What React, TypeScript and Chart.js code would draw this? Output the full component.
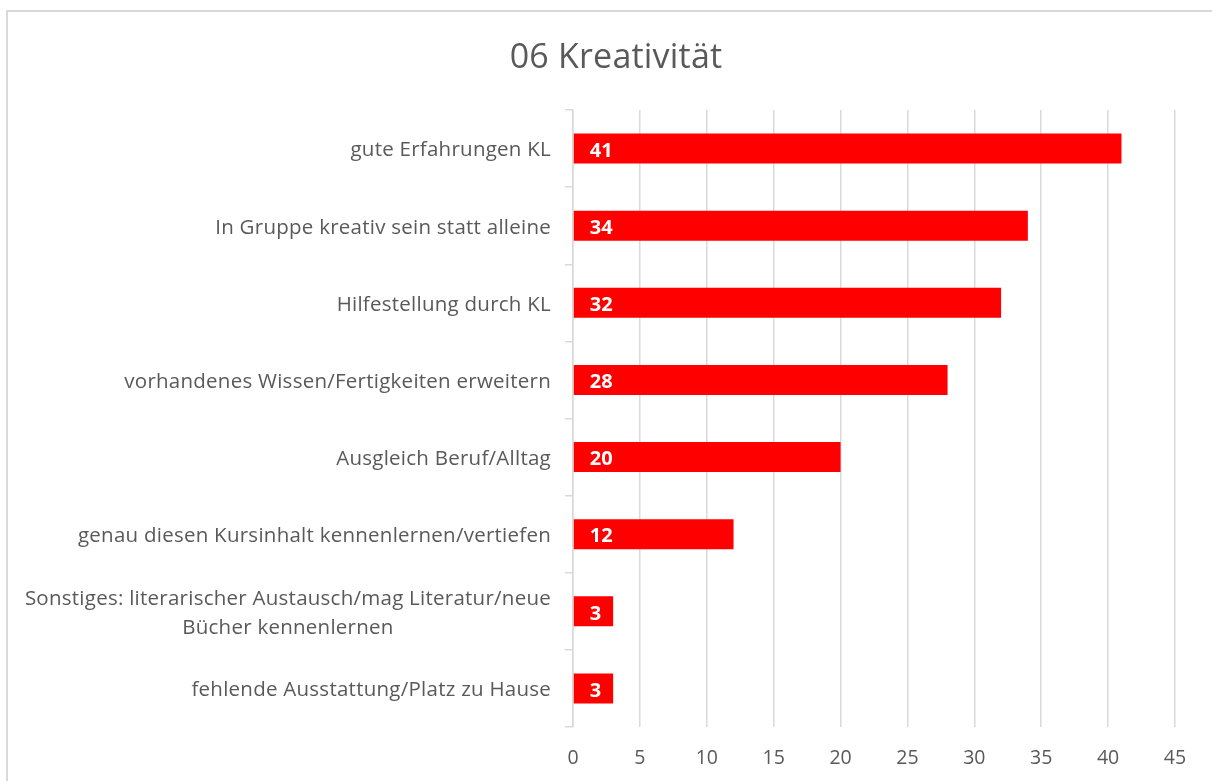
import React, { useEffect, useRef } from "react";
import { Chart, registerables } from "chart.js";

Chart.register(...registerables);

const chartTitle = "06 Kreativität";

const categories: (string | string[])[] = [
  "gute Erfahrungen KL",
  "In Gruppe kreativ sein statt alleine",
  "Hilfestellung durch KL",
  "vorhandenes Wissen/Fertigkeiten erweitern",
  "Ausgleich Beruf/Alltag",
  "genau diesen Kursinhalt kennenlernen/vertiefen",
  ["Sonstiges: literarischer Austausch/mag Literatur/neue", "Bücher kennenlernen"],
  "fehlende Ausstattung/Platz zu Hause",
];

const counts = [41, 34, 32, 28, 20, 12, 3, 3];

const axisMin = 0;
const axisMax = 45;
const axisStep = 5;

const TEXT = "#595959";
const GRID = "#d9d9d9";
const BAR = "#ff0000";
const FONT = "'Open Sans', 'DejaVu Sans', sans-serif";

// Title, category labels (centred lines, right-aligned block) and value labels
const textPlugin = {
  id: "textPlugin",
  afterDraw(chart: any) {
    const ctx = chart.ctx as CanvasRenderingContext2D;
    const yScale = chart.scales.y;
    const area = chart.chartArea;

    ctx.save();
    // title
    ctx.fillStyle = TEXT;
    ctx.font = `34px ${FONT}`;
    (ctx as any).letterSpacing = "0.2px";
    ctx.textAlign = "center";
    ctx.textBaseline = "middle";
    ctx.fillText(chartTitle, 608, 46);

    // category labels
    ctx.font = `20.5px ${FONT}`;
    (ctx as any).letterSpacing = "0.25px";
    const rightEdge = area.left - 22;
    const lineH = 29;
    categories.forEach((lab, i) => {
      const lines = Array.isArray(lab) ? lab : [lab];
      const widths = lines.map((l) => ctx.measureText(l).width);
      const maxW = Math.max(...widths);
      const cx = rightEdge - maxW / 2;
      const cy = yScale.getPixelForValue(i) + 2;
      const y0 = cy - ((lines.length - 1) * lineH) / 2;
      ctx.textAlign = "center";
      lines.forEach((l, j) => ctx.fillText(l, cx, y0 + j * lineH));
    });

    // value labels inside the bars, at their base
    ctx.font = `bold 20px ${FONT}`;
    (ctx as any).letterSpacing = "0px";
    ctx.fillStyle = "#ffffff";
    ctx.textAlign = "left";
    const meta = chart.getDatasetMeta(0);
    meta.data.forEach((bar: any, i: number) => {
      ctx.fillText(String(counts[i]), bar.base + 16, bar.y + 2.5);
    });
    ctx.restore();
  },
};

export default function App() {
  const canvasRef = useRef<HTMLCanvasElement | null>(null);

  useEffect(() => {
    if (!canvasRef.current) return;
    const chart = new Chart(canvasRef.current, {
      type: "bar",
      data: {
        labels: categories as any,
        datasets: [
          {
            data: counts,
            backgroundColor: BAR,
            borderWidth: 0,
            barPercentage: 0.39,
            categoryPercentage: 1,
          },
        ],
      },
      options: {
        indexAxis: "y",
        animation: false,
        responsive: false,
        maintainAspectRatio: false,
        layout: { padding: { top: 98, right: 37, left: 0, bottom: 0 } },
        plugins: {
          legend: { display: false },
          title: { display: false },
          tooltip: { enabled: false },
        },
        scales: {
          x: {
            min: axisMin,
            max: axisMax,
            ticks: {
              stepSize: axisStep,
              color: TEXT,
              font: { family: FONT, size: 19.5 },
              padding: 20,
            },
            grid: { color: GRID, lineWidth: 1.5, drawTicks: false },
            border: { display: false },
            afterFit: (s: any) => {
              s.height = 54;
            },
          },
          y: {
            ticks: { display: false },
            grid: {
              drawOnChartArea: false,
              drawTicks: true,
              tickLength: 8,
              color: GRID,
              lineWidth: 1.5,
            },
            border: { display: true, color: GRID, width: 1.5 },
            afterFit: (s: any) => {
              s.width = 565;
            },
          },
        },
      },
      plugins: [textPlugin],
    });
    return () => chart.destroy();
  }, []);

  return (
    <div
      style={{
        position: "absolute",
        left: 6,
        top: 10,
        width: 1206,
        height: 771,
        boxSizing: "border-box",
        borderTop: `2px solid ${GRID}`,
        borderLeft: `2px solid ${GRID}`,
        background: "#ffffff",
        overflow: "hidden",
      }}
    >
      <canvas ref={canvasRef} width={1204} height={769} style={{ display: "block" }} />
    </div>
  );
}
